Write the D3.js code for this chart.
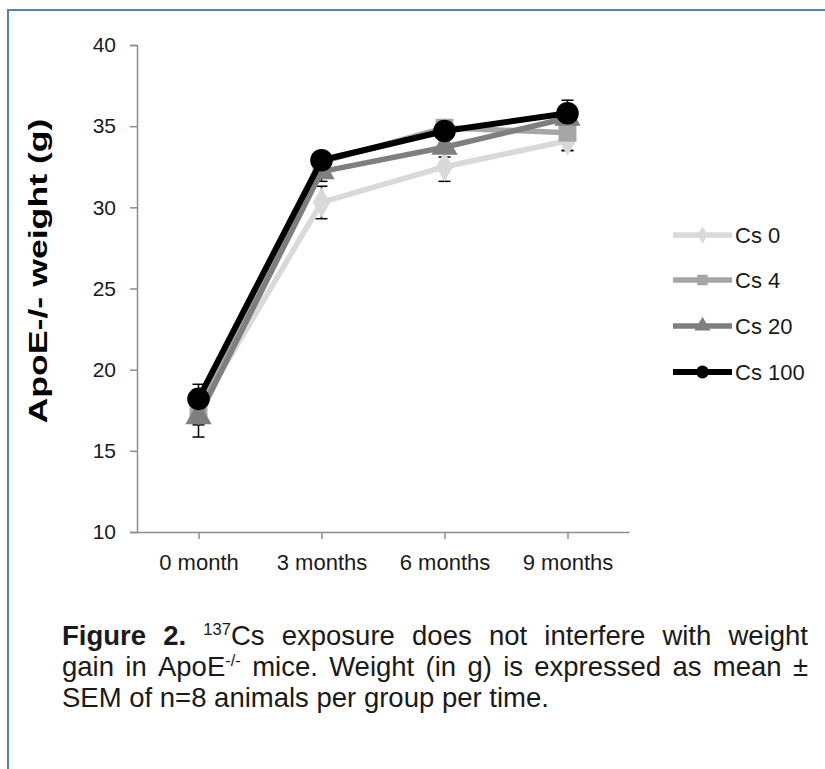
<!DOCTYPE html>
<html>
<head>
<meta charset="utf-8">
<script src="https://cdn.jsdelivr.net/npm/d3@7"></script>
<style>
  html, body { margin: 0; padding: 0; background: #fff; }
  svg { display: block; }
  text { font-family: "Liberation Sans", Arial, sans-serif; }
</style>
</head>
<body>
<svg id="chart" width="825" height="769"></svg>
<script>
// ---- data ----
const categories = ["0 month", "3 months", "6 months", "9 months"];
const seriesNames = ["Cs 0", "Cs 4", "Cs 20", "Cs 100"];
const cs0   = [17.5, 30.3, 32.5, 34.1];
const cs4   = [17.6, 32.8, 34.9, 34.6];
const cs20  = [17.1, 32.2, 33.7, 35.5];
const cs100 = [18.2, 32.9, 34.7, 35.8];
const sem0   = [0.9, 1.0, 0.9, 0.6];
const sem4   = [0.8, 0.6, 0.5, 1.1];
const sem20  = [1.25, 0.6, 0.6, 0.7];
const sem100 = [0.9, 0.5, 0.5, 0.8];
const yTicks = [10, 15, 20, 25, 30, 35, 40];

const series = [
  { name: seriesNames[0], values: cs0,   sem: sem0,   color: "#d9d9d9", marker: "diamond",  lw: 5.5 },
  { name: seriesNames[1], values: cs4,   sem: sem4,   color: "#a6a6a6", marker: "square",   lw: 5.5 },
  { name: seriesNames[2], values: cs20,  sem: sem20,  color: "#7f7f7f", marker: "triangle", lw: 5.5 },
  { name: seriesNames[3], values: cs100, sem: sem100, color: "#000000", marker: "circle",   lw: 6 }
];

const svg = d3.select("#chart");

// frame
svg.append("rect").attr("x", 8).attr("y", 10).attr("width", 840).attr("height", 800)
  .attr("fill", "none").attr("stroke", "#4f81bd").attr("stroke-width", 2);

const x = d3.scalePoint().domain(categories).range([137, 629]).padding(0.5);
const y = d3.scaleLinear().domain([10, 40]).range([532, 45]);

const axisColor = "#8c8c8c";

// y axis
const yAxis = svg.append("g").attr("transform", "translate(137,0)")
  .call(d3.axisLeft(y).tickValues(yTicks).tickSize(7).tickPadding(14).tickFormat(d3.format("d")));
yAxis.select(".domain").attr("stroke", axisColor).attr("stroke-width", 1.5);
yAxis.selectAll(".tick line").attr("stroke", axisColor).attr("stroke-width", 1.5);
yAxis.selectAll(".tick text").attr("font-size", 21).attr("fill", "#1a1a1a")
  .style("font-family", "'Liberation Sans', Arial, sans-serif");

// x axis
const xAxis = svg.append("g").attr("transform", "translate(0,532)")
  .call(d3.axisBottom(x).tickSize(7).tickSizeOuter(0).tickPadding(15));
xAxis.select(".domain").attr("stroke", axisColor).attr("stroke-width", 1.5);
xAxis.selectAll(".tick line").attr("stroke", axisColor).attr("stroke-width", 1.5);
xAxis.selectAll(".tick text").attr("font-size", 22).attr("fill", "#1a1a1a")
  .style("font-family", "'Liberation Sans', Arial, sans-serif");

// y axis title
svg.append("text")
  .attr("transform", "translate(47,271) rotate(-90)")
  .attr("text-anchor", "middle")
  .attr("font-size", 26).attr("font-weight", "bold").attr("fill", "#000")
  .attr("textLength", 305).attr("lengthAdjust", "spacingAndGlyphs")
  .text("ApoE-/- weight (g)");

// marker symbols
function symbolFor(kind, size) {
  const t = { diamond: d3.symbolDiamond, square: d3.symbolSquare, triangle: d3.symbolTriangle, circle: d3.symbolCircle }[kind];
  return d3.symbol().type(t).size(size)();
}
const markerSize = { diamond: 260, square: 320, triangle: 300, circle: 400 };

// error bars
const eb = svg.append("g");
series.forEach(s => {
  s.values.forEach((v, i) => {
    const cx = x(categories[i]);
    eb.append("line").attr("x1", cx).attr("x2", cx).attr("y1", y(v - s.sem[i])).attr("y2", y(v + s.sem[i]))
      .attr("stroke", "#000").attr("stroke-width", 1.5);
    [v - s.sem[i], v + s.sem[i]].forEach(e => {
      eb.append("line").attr("x1", cx - 6).attr("x2", cx + 6).attr("y1", y(e)).attr("y2", y(e))
        .attr("stroke", "#000").attr("stroke-width", 1.5);
    });
  });
});

// lines + markers
const line = d3.line().x((d, i) => x(categories[i])).y(d => y(d));
series.forEach(s => {
  const g = svg.append("g");
  g.append("path").datum(s.values).attr("d", line).attr("fill", "none")
    .attr("stroke", s.color).attr("stroke-width", s.lw).attr("stroke-linejoin", "round");
  g.selectAll("path.m").data(s.values).enter().append("path").attr("class", "m")
    .attr("d", symbolFor(s.marker, markerSize[s.marker]))
    .attr("transform", (d, i) => `translate(${x(categories[i])},${y(d)})`)
    .attr("fill", s.color);
});

// legend
const legendY = [235, 280, 326, 372];
const legendMarkerSize = { diamond: 90, square: 110, triangle: 110, circle: 130 };
series.forEach((s, i) => {
  const g = svg.append("g").attr("transform", `translate(673,${legendY[i]})`);
  g.append("line").attr("x1", 0).attr("x2", 59).attr("y1", 0).attr("y2", 0)
    .attr("stroke", s.color).attr("stroke-width", s.lw);
  g.append("path").attr("d", symbolFor(s.marker, legendMarkerSize[s.marker]))
    .attr("transform", "translate(29.5,0)").attr("fill", s.color);
  g.append("text").attr("x", 62).attr("y", 0).attr("dy", "0.35em")
    .attr("font-size", 22).attr("fill", "#1a1a1a").text(s.name);
});

// caption (justified)
const capX0 = 62, capX1 = 808, capFont = 27.5;
const capLines = [
  { y: 645, justify: true, words: [
    [{t: "Figure", b: true}], [{t: "2.", b: true}],
    [{t: "137", sup: true}, {t: "Cs"}], [{t: "exposure"}], [{t: "does"}], [{t: "not"}],
    [{t: "interfere"}], [{t: "with"}], [{t: "weight"}] ] },
  { y: 676, justify: true, words: [
    [{t: "gain"}], [{t: "in"}], [{t: "ApoE"}, {t: "-/-", sup: true}], [{t: "mice."}], [{t: "Weight"}],
    [{t: "(in"}], [{t: "g)"}], [{t: "is"}], [{t: "expressed"}], [{t: "as"}], [{t: "mean"}], [{t: "±"}] ] },
  { y: 707, justify: false, words: [
    [{t: "SEM"}], [{t: "of"}], [{t: "n=8"}], [{t: "animals"}], [{t: "per"}], [{t: "group"}], [{t: "per"}], [{t: "time."}] ] }
];
const cap = svg.append("g");
capLines.forEach(L => {
  const nodes = L.words.map(w => {
    const t = cap.append("text").attr("y", L.y).attr("font-size", capFont).attr("fill", "#1a1a1a");
    let prevSup = false;
    w.forEach(p => {
      const ts = t.append("tspan").text(p.t);
      if (p.b) ts.attr("font-weight", "bold");
      if (p.sup) ts.attr("font-size", capFont * 0.6).attr("dy", -capFont * 0.38);
      else if (prevSup) ts.attr("dy", capFont * 0.38);
      prevSup = !!p.sup;
    });
    return t;
  });
  const widths = nodes.map(t => t.node().getComputedTextLength());
  const total = d3.sum(widths);
  const spaceW = capFont * 0.278;
  const gap = L.justify ? (capX1 - capX0 - total) / (nodes.length - 1) : spaceW;
  let cx = capX0;
  nodes.forEach((t, i) => { t.attr("x", cx); cx += widths[i] + gap; });
});
</script>
</body>
</html>
